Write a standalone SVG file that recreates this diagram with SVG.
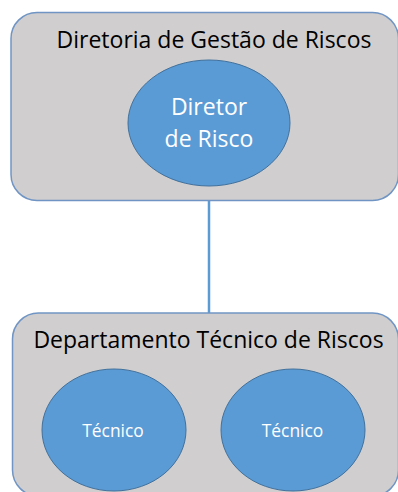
<svg xmlns="http://www.w3.org/2000/svg" width="398" height="492" viewBox="0 0 398 492">
<style>
.box{fill:#d0cece;stroke:#7095c4;stroke-width:1.5}
.ell{fill:#5b9bd5;stroke:#41719c;stroke-width:1}
.title{font-family:"Open Sans","Liberation Sans",sans-serif;font-size:23px;fill:#000;text-anchor:middle}
.lbl{font-family:"Open Sans","Liberation Sans",sans-serif;fill:#fff;text-anchor:middle}
.conn{stroke:#5b9bd5;stroke-width:2.5;fill:none}
</style>
<rect width="398" height="492" fill="#fff"/>
<g id="connectors">
<line class="conn" x1="209" y1="200" x2="209" y2="313"/>
</g>
<g id="diretoria">
<rect class="box" x="11" y="12.5" width="387.5" height="188" rx="26" ry="26"/>
<text class="title" x="214" y="48">Diretoria de Gestão de Riscos</text>
</g>
<g id="diretor">
<ellipse class="ell" cx="209" cy="123" rx="81" ry="63"/>
<text class="lbl" font-size="23" x="209" y="115">Diretor</text>
<text class="lbl" font-size="23" x="209" y="147">de Risco</text>
</g>
<g id="departamento">
<rect class="box" x="12.5" y="313" width="386" height="183" rx="26" ry="26"/>
<text class="title" x="208.5" y="348">Departamento Técnico de Riscos</text>
</g>
<g id="tecnico1">
<ellipse class="ell" cx="114" cy="430" rx="72" ry="61"/>
<text class="lbl" font-size="17.4" x="113" y="437">Técnico</text>
</g>
<g id="tecnico2">
<ellipse class="ell" cx="293" cy="430" rx="72" ry="61"/>
<text class="lbl" font-size="17.4" x="292.5" y="437">Técnico</text>
</g>
</svg>
